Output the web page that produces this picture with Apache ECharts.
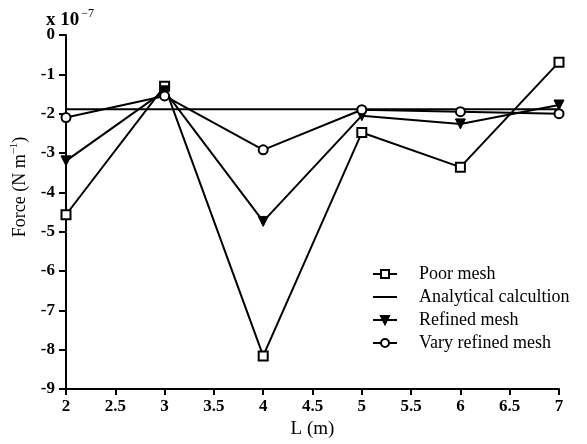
<!DOCTYPE html>
<html>
<head>
<meta charset="utf-8">
<script src="https://cdn.jsdelivr.net/npm/echarts@6/dist/echarts.min.js"></script>
<style>html,body{margin:0;padding:0;background:#fff}#c{width:587px;height:444px}</style>
</head>
<body>
<div id="c"></div>
<script>
var lengths = [2, 3, 4, 5, 6, 7];
var poorMesh = [-4.57, -1.3, -8.16, -2.48, -3.36, -0.69];
var analytical = [-1.89, -1.89];
var analyticalX = [2, 7];
var refinedMesh = [-3.2, -1.42, -4.74, -2.05, -2.26, -1.78];
var varyRefinedMesh = [-2.1, -1.55, -2.92, -1.9, -1.95, -2.0];
var seriesNames = ['Poor mesh', 'Analytical calcultion', 'Refined mesh', 'Vary refined mesh'];

function pairs(xs, ys) { return xs.map(function (x, i) { return [x, ys[i]]; }); }

var serif = '"Liberation Serif", "DejaVu Serif", serif';
var chart = echarts.init(document.getElementById('c'));
var lineStyle = { color: '#000', width: 2 };
chart.setOption({
  animation: false,
  backgroundColor: '#fff',
  grid: { left: 66, right: 28, top: 35, bottom: 55 },
  xAxis: {
    type: 'value', min: 2, max: 7, interval: 0.5,
    name: 'L (m)', nameLocation: 'middle', nameGap: 29,
    nameTextStyle: { fontFamily: serif, fontSize: 19, color: '#000' },
    axisLine: { show: true, onZero: false, lineStyle: { color: '#000', width: 2 } },
    axisTick: { show: true, inside: false, length: 6, lineStyle: { color: '#000', width: 2 } },
    axisLabel: { fontFamily: serif, fontWeight: 'bold', fontSize: 17, color: '#000', margin: 9 },
    splitLine: { show: false }
  },
  yAxis: {
    type: 'value', min: -9, max: 0, interval: 1,
    axisLine: { show: true, onZero: false, lineStyle: { color: '#000', width: 2 } },
    axisTick: { show: true, inside: false, length: 7, lineStyle: { color: '#000', width: 2 } },
    axisLabel: { fontFamily: serif, fontWeight: 'bold', fontSize: 17, color: '#000', margin: 11 },
    splitLine: { show: false }
  },
  legend: {
    orient: 'vertical', left: 367, top: 260, itemGap: 5,
    itemWidth: 24, itemHeight: 10,
    data: [
      seriesNames[0],
      { name: seriesNames[1], itemStyle: { opacity: 0 } },
      seriesNames[2],
      seriesNames[3]
    ],
    textStyle: { fontFamily: serif, fontSize: 18, color: '#000', padding: [0, 0, 0, 17] }
  },
  graphic: [
    {
      type: 'text', left: 46, top: 8,
      style: {
        text: '{a|x 10}{b|−7}',
        rich: {
          a: { fontFamily: serif, fontSize: 19, fontWeight: 'bold', fill: '#000' },
          b: { fontFamily: serif, fontSize: 12, fill: '#000', padding: [0, 0, 13, 2] }
        }
      }
    },
    {
      type: 'text', x: 20, y: 187, rotation: Math.PI / 2,
      style: {
        text: '{a|Force (N m}{b|−1}{a|)}',
        align: 'center', verticalAlign: 'middle',
        rich: {
          a: { fontFamily: serif, fontSize: 18, fill: '#000' },
          b: { fontFamily: serif, fontSize: 11, fill: '#000', padding: [0, 0, 11, 0] }
        }
      }
    }
  ],
  series: [
    {
      name: seriesNames[0], type: 'line', data: pairs(lengths, poorMesh),
      symbol: 'rect', symbolSize: 9, showAllSymbol: true,
      itemStyle: { color: '#fff', borderColor: '#000', borderWidth: 2 },
      lineStyle: lineStyle, z: 3
    },
    {
      name: seriesNames[1], type: 'line', data: pairs(analyticalX, analytical),
      symbol: 'none', itemStyle: { color: '#000' },
      lineStyle: lineStyle, z: 2
    },
    {
      name: seriesNames[2], type: 'line', data: pairs(lengths, refinedMesh),
      symbol: 'triangle', symbolRotate: 180, symbolSize: 10,
      itemStyle: { color: '#000', borderColor: '#000', borderWidth: 1 },
      lineStyle: lineStyle, z: 4
    },
    {
      name: seriesNames[3], type: 'line', data: pairs(lengths, varyRefinedMesh),
      symbol: 'circle', symbolSize: 9,
      itemStyle: { color: '#fff', borderColor: '#000', borderWidth: 2 },
      lineStyle: lineStyle, z: 5
    }
  ]
});
</script>
</body>
</html>
